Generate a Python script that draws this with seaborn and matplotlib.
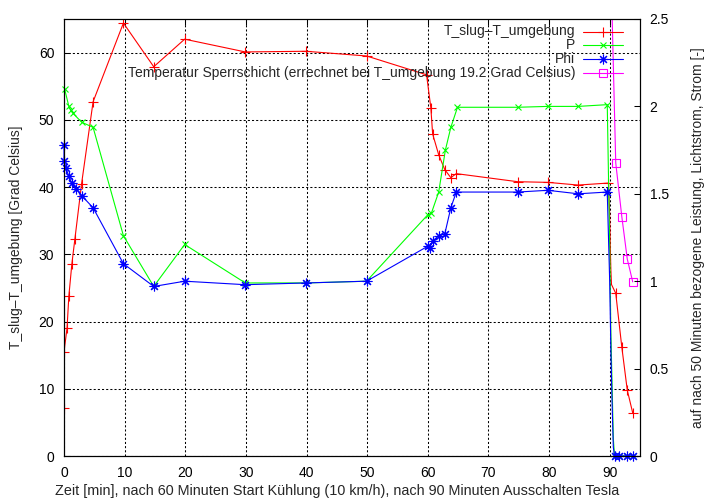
import matplotlib
matplotlib.use('Agg')
import matplotlib.pyplot as plt
from matplotlib.lines import Line2D
from matplotlib.ticker import FuncFormatter
import seaborn as sns

sns.set_style('white')
plt.rcParams['font.family'] = ['Liberation Sans', 'DejaVu Sans']
plt.rcParams['font.size'] = 10

# T_slug - T_umgebung (left axis, Grad Celsius)
t_temp = [0.0, 0.0, 0.5, 0.8, 1.3, 1.8, 2.9, 4.8, 9.8, 14.8, 19.9, 29.9, 39.9, 49.9,
          59.8, 60.5, 60.8, 61.8, 62.8, 63.8, 64.7, 74.8, 79.8, 84.8, 89.8,
          90.0, 90.1, 90.2, 90.3, 91.0, 92.0, 92.9, 93.8]
temp = [7.1, 15.5, 19.0, 23.8, 28.6, 32.3, 40.5, 52.7, 64.4, 57.9, 62.0, 60.1, 60.2, 59.5,
        56.7, 51.8, 47.9, 44.8, 42.6, 41.4, 42.0, 40.8, 40.7, 40.3, 40.6,
        36.0, 31.0, 27.5, 25.5, 24.2, 16.2, 9.8, 6.4]

# P (right axis, bezogen auf 50 Minuten)
t_p = [0.1, 0.8, 1.1, 1.5, 2.9, 4.8, 9.8, 14.8, 19.9, 29.9, 39.9, 49.9,
       60.0, 60.6, 61.8, 62.9, 63.8, 64.9, 74.8, 79.8, 84.8, 89.6,
       90.0, 90.2, 90.4, 90.6, 90.8, 91.6, 92.8, 93.8]
p = [2.10, 2.00, 1.98, 1.96, 1.91, 1.88, 1.26, 0.97, 1.21, 0.99, 0.99, 1.00,
     1.38, 1.39, 1.51, 1.75, 1.88, 1.995, 1.995, 2.00, 2.00, 2.01,
     1.20, 0.70, 0.40, 0.10, 0.0, 0.0, 0.0, 0.0]

# Phi (right axis)
t_phi = [0.0, 0.0, 0.3, 0.8, 1.3, 2.0, 2.9, 4.8, 9.8, 14.8, 19.9, 29.9, 39.9, 49.9,
         60.0, 60.3, 60.8, 61.8, 62.8, 63.8, 64.7, 74.8, 79.8, 84.8, 89.6,
         90.0, 90.2, 90.4, 90.6, 90.8, 91.6, 92.8, 93.8]
phi = [1.78, 1.69, 1.65, 1.60, 1.56, 1.53, 1.49, 1.42, 1.10, 0.97, 1.00, 0.98, 0.99, 1.00,
       1.20, 1.19, 1.23, 1.26, 1.27, 1.42, 1.51, 1.51, 1.52, 1.50, 1.51,
       1.00, 0.60, 0.30, 0.05, 0.0, 0.0, 0.0, 0.0]

# Temperatur Sperrschicht (left axis)
t_sperr = [90.0, 91.0, 92.0, 92.9, 93.8]
sperr = [80.0, 43.6, 35.6, 29.3, 25.9]

labels = ['T_slug–T_umgebung', 'P', 'Phi',
          'Temperatur Sperrschicht (errechnet bei T_umgebung 19.2 Grad Celsius)']
colors = ['#ff0000', '#00ff00', '#0000ff', '#ff00ff']
markers = ['+', 'x', (8, 2, 0), 's']
msizes = [6.5, 5, 7, 6]
clips = [True, False, False, True]

fig = plt.figure(figsize=(7.13, 5), dpi=100)
ax = fig.add_axes([64 / 713, 44 / 500, 576 / 713, 437 / 500])
ax2 = ax.twinx()

series = [(ax, t_temp, temp), (ax2, t_p, p), (ax2, t_phi, phi), (ax, t_sperr, sperr)]
for (a, xs, ys), c, m, ms, cl in zip(series, colors, markers, msizes, clips):
    # the fast drop right after switching off shows no point symbols
    every = [i for i, t in enumerate(xs) if not (89.9 < t < 90.75)]
    sns.lineplot(x=xs, y=ys, ax=a, color=c, marker=m, markersize=ms, markevery=every,
                 markeredgecolor=c, markerfacecolor='none', markeredgewidth=0.8,
                 linewidth=0.8, estimator=None, sort=False, legend=False, clip_on=cl)

ax.set_xlim(0, 95)
ax.set_ylim(0, 65)
ax2.set_ylim(0, 2.5)
ax.set_xticks(range(0, 91, 10))
ax.set_yticks(range(0, 61, 10))
ax2.set_yticks([0, 0.5, 1, 1.5, 2, 2.5])
ax2.yaxis.set_major_formatter(FuncFormatter(lambda v, pos: '%g' % v))

ax.grid(True, color='black', linestyle=(0, (2, 2)), linewidth=0.75)
ax.tick_params(direction='in', length=4.5, width=0.75, top=True, right=False,
               colors='black', pad=7)
ax2.tick_params(direction='in', length=4.5, width=0.75, colors='black', pad=7)
for a in (ax, ax2):
    for s in a.spines.values():
        s.set_color('black')
        s.set_linewidth(0.8)

ax.set_xlabel('Zeit [min], nach 60 Minuten Start Kühlung (10 km/h), nach 90 Minuten Ausschalten Tesla',
              fontsize=10.4)
ax.set_ylabel('T_slug–T_umgebung [Grad Celsius]')
ax2.set_ylabel('auf nach 50 Minuten bezogene Leistung, Lichtstrom, Strom [-]')
ax.xaxis.set_label_coords(0.475, -0.064)
ax.yaxis.set_label_coords(-0.071, 0.5)
ax2.yaxis.set_label_coords(1.0885, 0.5)

# gnuplot-style key: right-aligned text, sample line with marker
for i, (lab, c, m, ms) in enumerate(zip(labels, colors, markers, msizes)):
    yy = 1 - (31.5 + i * 13.7) / 500
    fig.text(575 / 713, yy, lab, ha='right', va='center')
    fig.add_artist(Line2D([583 / 713, 623 / 713], [yy, yy], transform=fig.transFigure,
                          color=c, linewidth=0.8))
    fig.add_artist(Line2D([603 / 713], [yy], transform=fig.transFigure, color=c,
                          marker=m, markersize=ms, markerfacecolor='none',
                          markeredgewidth=0.8, linestyle='none'))

fig.savefig('out.png', dpi=100)
